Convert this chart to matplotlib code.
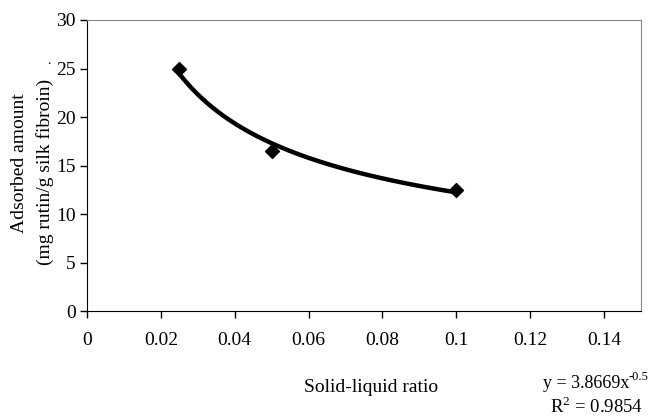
import numpy as np
import matplotlib.pyplot as plt

plt.rcParams['font.family'] = ['Liberation Serif', 'DejaVu Serif']

# measured points
ratio = [0.025, 0.05, 0.1]
adsorbed = [25.0, 16.5, 12.5]

# power fit shown on the chart
fit_a = 3.8669
fit_b = -0.5

fig = plt.figure(figsize=(6.53, 4.18), dpi=100)
ax = fig.add_axes([87/653, 1 - 311/418, (641 - 87)/653, (311 - 20)/418])

xf = np.linspace(min(ratio), max(ratio), 200)
ax.plot(xf, fit_a * xf ** fit_b, color='black', lw=3.2, solid_capstyle='butt', zorder=2)
ax.scatter(ratio, adsorbed, marker='D', s=50, color='black', zorder=3)

ax.set_xlim(0, 0.15)
ax.set_ylim(0, 30)
ax.set_xticks([0, 0.02, 0.04, 0.06, 0.08, 0.1, 0.12, 0.14])
ax.set_xticklabels(['0', '0.02', '0.04', '0.06', '0.08', '0.1', '0.12', '0.14'])
ax.set_yticks(range(0, 31, 5))
ax.tick_params(direction='out', length=5, width=1, labelsize=14, pad=10)
ax.tick_params(axis='y', pad=3)

for s in ['top', 'right']:
    ax.spines[s].set_color('#888888')
for s in ['left', 'bottom']:
    ax.spines[s].set_color('black')

fig.text(371/653, 1 - 388/418, 'Solid-liquid ratio', ha='center', va='center', fontsize=14)
fig.text(20/653, 1 - 163/418, 'Adsorbed amount', rotation=90, ha='center', va='center', fontsize=14)
fig.text(45/653, 1 - 172/418, '(mg rutin/g silk fibroin)', rotation=90, ha='center', va='center', fontsize=14)
fig.text(49/653, 1 - 60/418, '.', ha='center', va='center', fontsize=10)

# trendline equation, exponent written as separate small text to keep the hyphen
fig.text(629/653, 1 - 384/418, 'y = 3.8669x', ha='right', va='center', fontsize=13)
fig.text(629/653, 1 - 377/418, '-0.5', ha='left', va='center', fontsize=9)
fig.text(643/653, 1 - 407/418, r'R$^{\mathregular{2}}$ = 0.9854', ha='right', va='center', fontsize=13.5)

fig.savefig('out.png', dpi=100)
